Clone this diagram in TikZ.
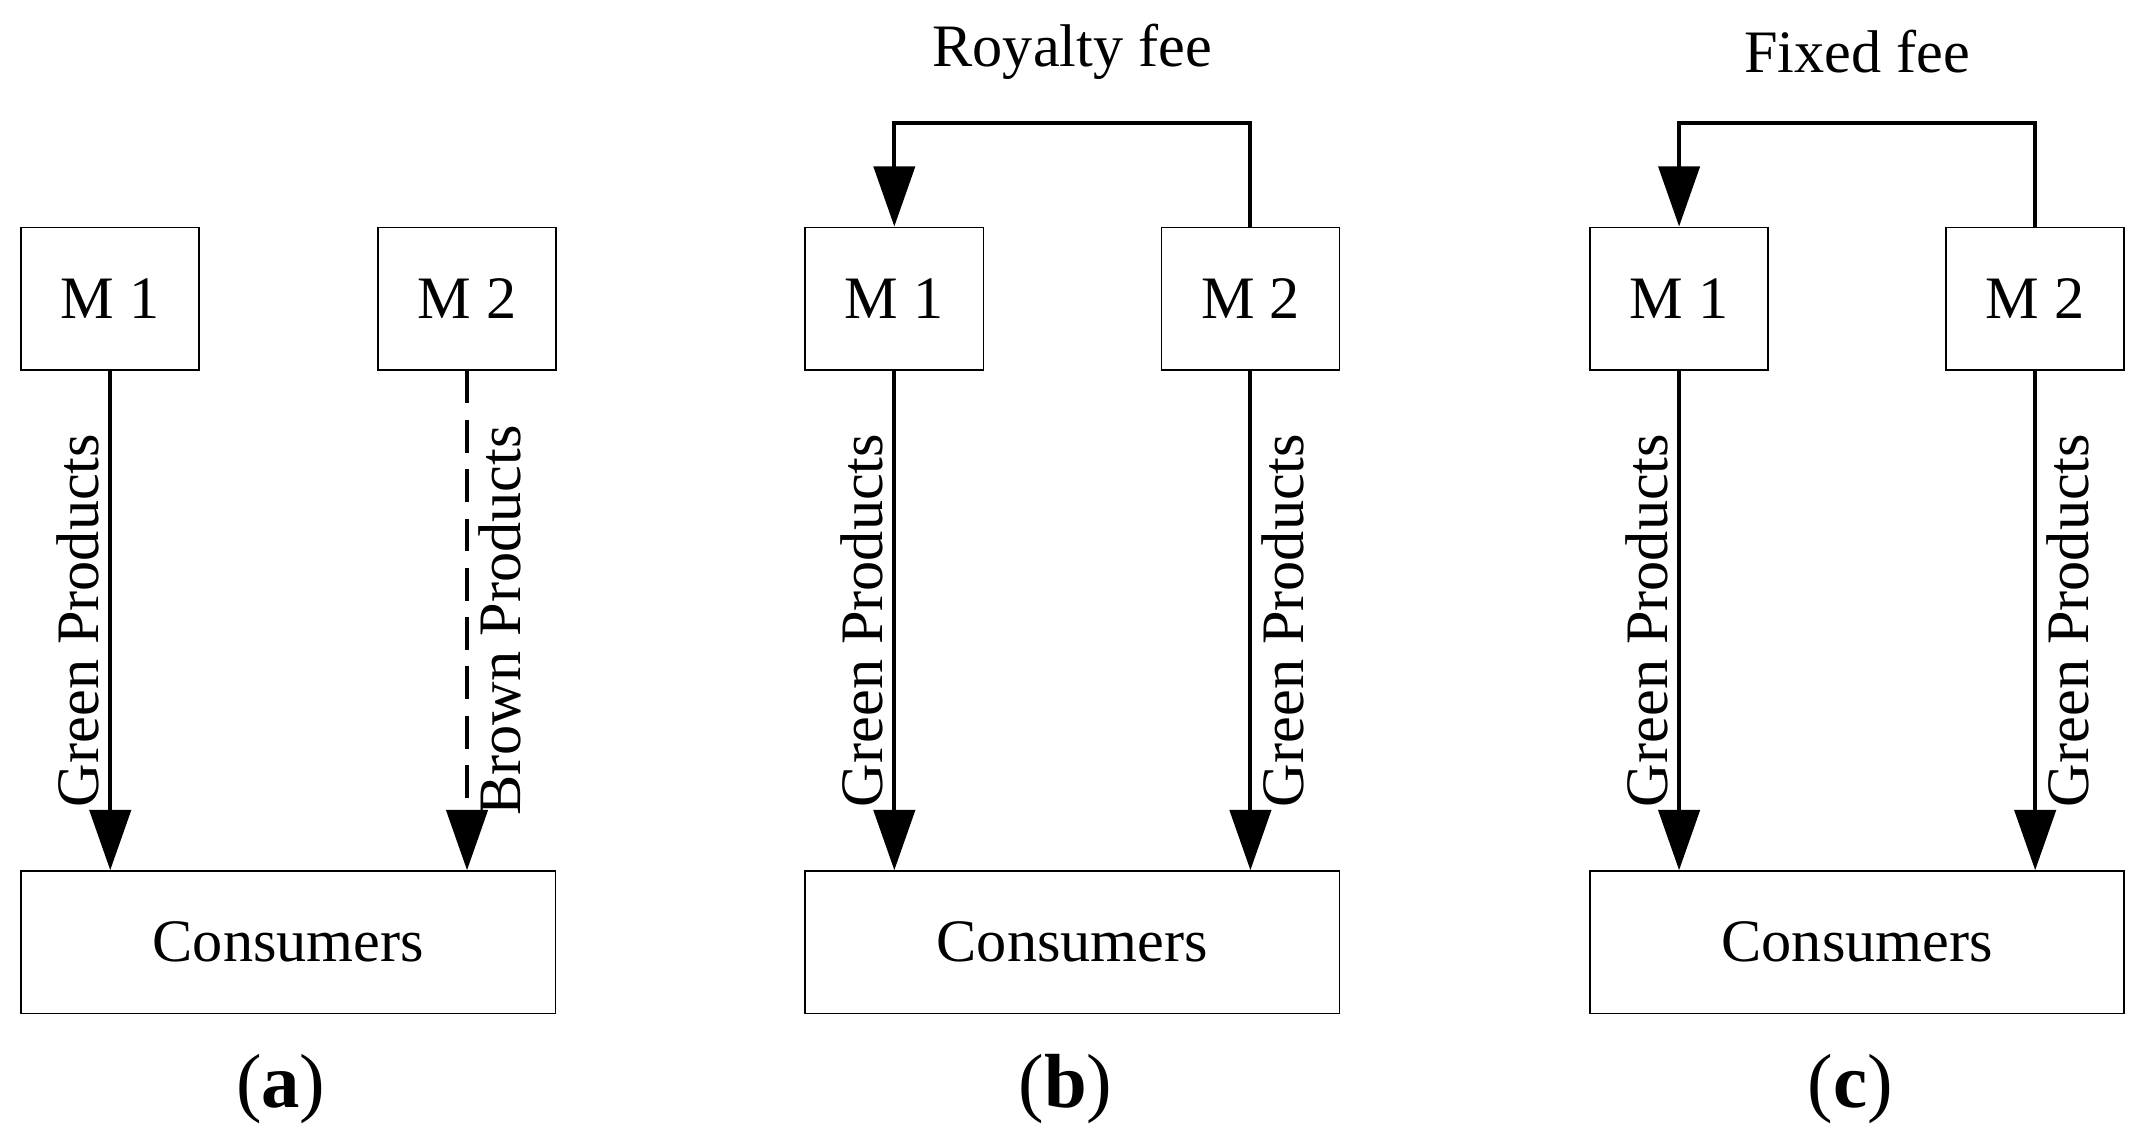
\documentclass[tikz,border=0pt]{standalone}
\usepackage{fontspec}
\setmainfont{Liberation Serif}
\usetikzlibrary{arrows.meta}
\usetikzlibrary{positioning}

\begin{document}
\begin{tikzpicture}[x=0.5pt,y=-0.5pt]
  \tikzset{box/.style={draw,line width=0.6pt,minimum width=65pt,minimum height=52pt,
                       font=\fontsize{22}{24}\selectfont,inner sep=0pt},
           widebox/.style={box,minimum width=195pt},
           flow/.style={-{Triangle[length=22pt,width=15pt]},line width=1.5pt},
           lbl/.style={font=\fontsize{22}{24}\selectfont,rotate=90},
           capt/.style={font=\fontsize{28}{30}\selectfont}}
  \useasboundingbox (0,0) rectangle (1564,822);

  % (a)
  \node[box] (m1a) at (80.5,218) {M 1};
  \node[box] (m2a) at (341,218) {M 2};
  \node[widebox] (ca) at (210.5,688) {Consumers};
  \draw[flow] (m1a) -- (m1a |- ca.north) node[midway,lbl,above] {Green Products};
  \draw[flow,dash pattern=on 12pt off 6pt] (m2a) -- (m2a |- ca.north) node[midway,lbl,below] {Brown Products};
  \node[capt] (capa) at (205,795) {(\textbf{a})};

  % (b)
  \node[box] (m1b) at (653,218) {M 1};
  \node[box] (m2b) at (913,218) {M 2};
  \node[widebox] (cb) at (783,688) {Consumers};
  \draw[flow] (m1b) -- (m1b |- cb.north) node[midway,lbl,above] {Green Products};
  \draw[flow] (m2b) -- (m2b |- cb.north) node[midway,lbl,below] {Green Products};
  \draw[flow] (m2b.north) |- (783,90) -| (m1b.north);
  \node[font=\fontsize{22}{24}\selectfont] (feeb) at (783,38) {Royalty fee};
  \node[capt] (capb) at (778,795) {(\textbf{b})};

  % (c)
  \node[box] (m1c) at (1226,218) {M 1};
  \node[box] (m2c) at (1486,218) {M 2};
  \node[widebox] (cc) at (1356,688) {Consumers};
  \draw[flow] (m1c) -- (m1c |- cc.north) node[midway,lbl,above] {Green Products};
  \draw[flow] (m2c) -- (m2c |- cc.north) node[midway,lbl,below] {Green Products};
  \draw[flow] (m2c.north) |- (1356,90) -| (m1c.north);
  \node[font=\fontsize{22}{24}\selectfont] (feec) at (1356,38) {Fixed fee};
  \node[capt] (capc) at (1351,795) {(\textbf{c})};
\end{tikzpicture}
\end{document}
